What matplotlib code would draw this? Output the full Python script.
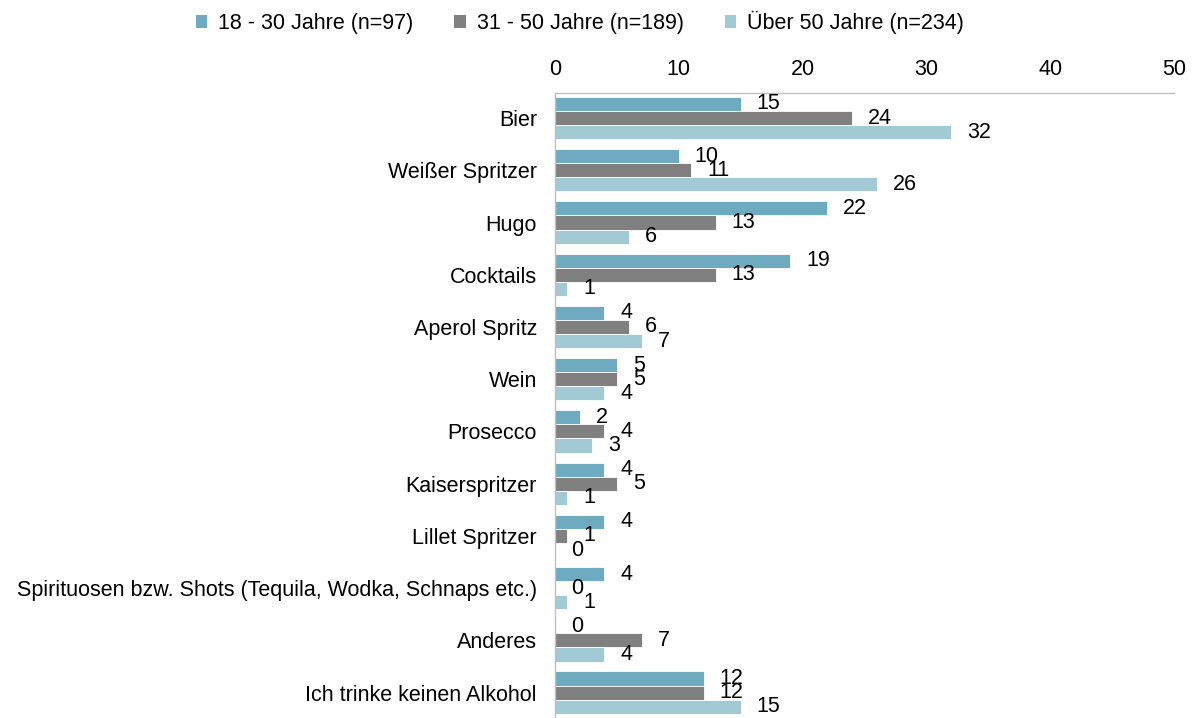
import numpy as np
import matplotlib.pyplot as plt
from matplotlib.patches import Patch

plt.rcParams['font.family'] = ['Liberation Sans', 'DejaVu Sans']

# === Data ===
categories = [
    "Bier", "Weißer Spritzer", "Hugo", "Cocktails", "Aperol Spritz", "Wein",
    "Prosecco", "Kaiserspritzer", "Lillet Spritzer",
    "Spirituosen bzw. Shots (Tequila, Wodka, Schnaps etc.)",
    "Anderes", "Ich trinke keinen Alkohol",
]
series_names = ["18 - 30 Jahre (n=97)", "31 - 50 Jahre (n=189)", "Über 50 Jahre (n=234)"]
age_18_30 = [15, 10, 22, 19, 4, 5, 2, 4, 4, 4, 0, 12]
age_31_50 = [24, 11, 13, 13, 6, 5, 4, 5, 1, 0, 7, 12]
age_50_plus = [32, 26, 6, 1, 7, 4, 3, 1, 0, 1, 4, 15]
x_ticks = [0, 10, 20, 30, 40, 50]

colors = ['#6FABC0', '#808080', '#A1CAD5']
fs = 15.5

fig = plt.figure(figsize=(12.03, 7.18), dpi=100)
ax = fig.add_axes([0.4613, -0.001, 0.5146, 0.8715])

y = np.arange(len(categories))
h = 0.27
for i, (vals, col) in enumerate(zip([age_18_30, age_31_50, age_50_plus], colors)):
    bars = ax.barh(y + (i - 1) * h, vals, height=h, color=col,
                   edgecolor='white', linewidth=0.6)
    ax.bar_label(bars, labels=[str(v) for v in vals], padding=11.5, fontsize=fs)

ax.set_ylim(len(categories) - 0.5, -0.48)
ax.set_xlim(0, 50)
ax.set_xticks(x_ticks)
ax.xaxis.tick_top()
ax.tick_params(axis='x', length=0, pad=9, labelsize=fs)
ax.set_yticks(y)
ax.set_yticklabels(categories, fontsize=fs)
ax.tick_params(axis='y', length=0, pad=13)

for s in ['right', 'bottom']:
    ax.spines[s].set_visible(False)
for s in ['top', 'left']:
    ax.spines[s].set_color('#BFBFBF')
    ax.spines[s].set_linewidth(1)

handles = [Patch(facecolor=c, edgecolor='none') for c in colors]
fig.legend(handles, series_names, loc='upper center', bbox_to_anchor=(0.482, 1.012),
           ncol=3, frameon=False, fontsize=fs, handlelength=0.52, handleheight=0.52,
           handletextpad=0.52, columnspacing=1.9)

fig.savefig('out.png', dpi=100)
